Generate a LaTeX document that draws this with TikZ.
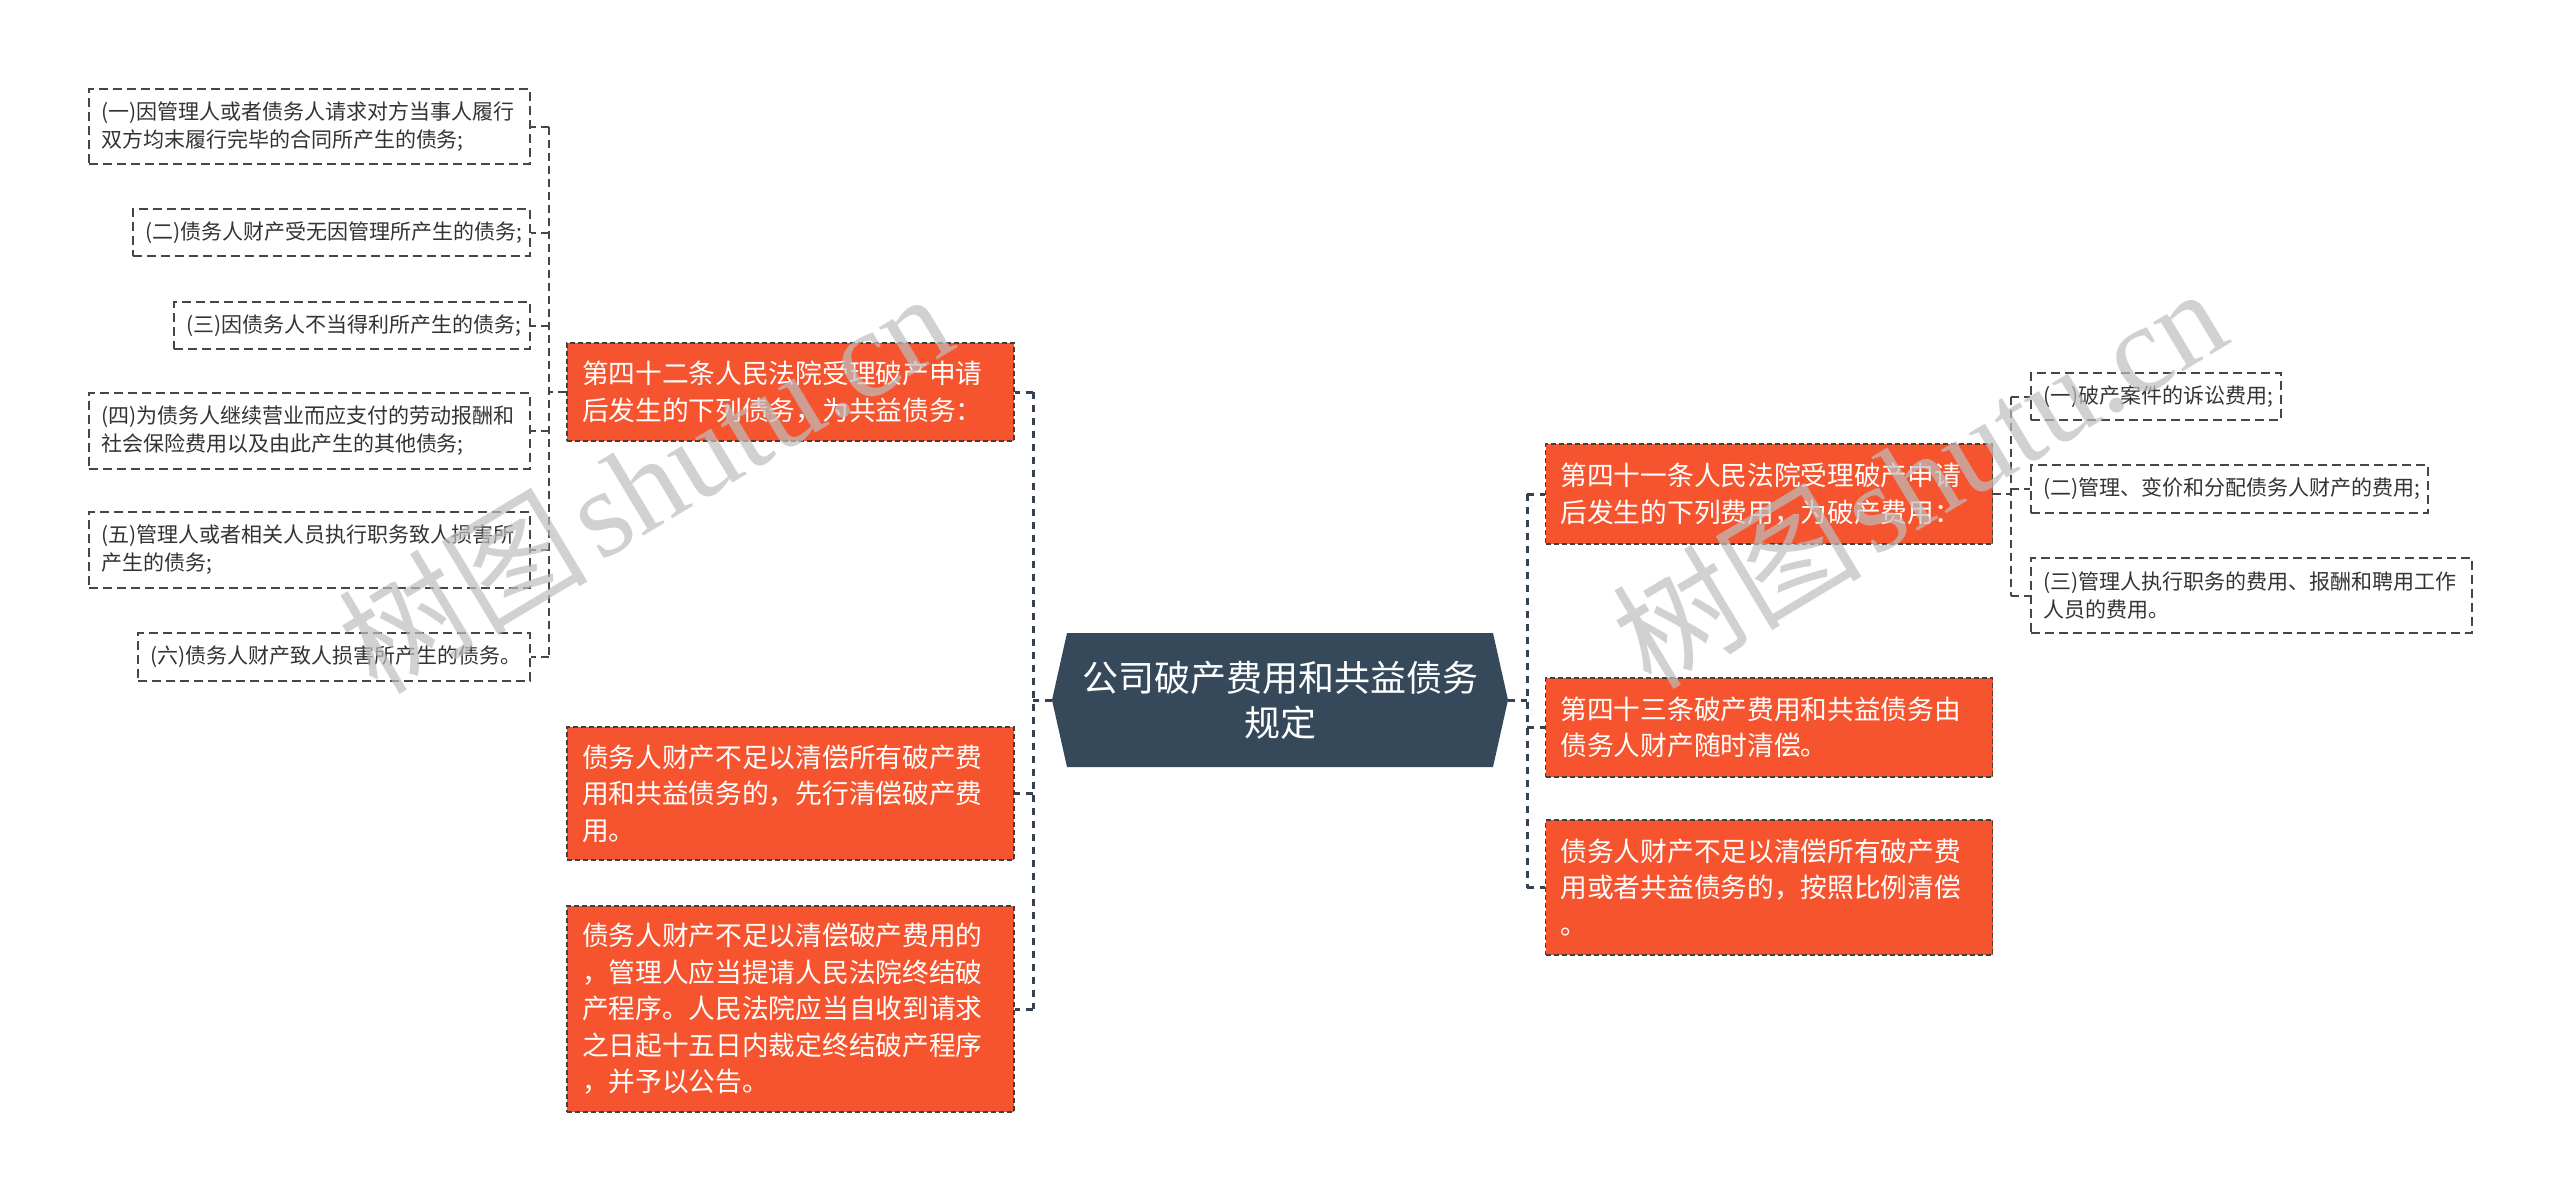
\documentclass[tikz,border=0pt]{standalone}
\usepackage{fontspec}
\setmainfont{Noto Sans CJK SC}
\newfontfamily\wmlatin{Liberation Serif}
\usetikzlibrary{calc}
\definecolor{orangefill}{RGB}{246,84,46}
\definecolor{rootfill}{RGB}{54,73,91}
\definecolor{conn}{RGB}{52,66,82}
\definecolor{leafline}{RGB}{70,70,70}
\definecolor{leaftext}{RGB}{51,51,51}
\definecolor{wmgray}{RGB}{190,190,190}
\tikzset{
  leaf/.style={draw=leafline, line width=2pt, dash pattern=on 9pt off 5pt, fill=white, text=leaftext, font=\fontsize{21}{28}\selectfont, align=left, inner xsep=12pt, inner ysep=0pt},
  mid/.style={draw=black!75, line width=1.6pt, dash pattern=on 5pt off 3pt, fill=orangefill, text=white, font=\fontsize{26.7}{36.5}\selectfont, align=left, inner xsep=15pt, inner ysep=0pt, text width=417pt},
  rootnode/.style={text=white, font=\fontsize{36}{45}\selectfont, align=center, minimum width=456pt, minimum height=134pt, inner sep=0pt},
  mainconn/.style={draw=conn, line width=3pt, dash pattern=on 7pt off 6pt},
  leafconn/.style={draw=leafline, line width=2pt, dash pattern=on 8pt off 5pt},
  watermark/.style={text=wmgray, opacity=0.7, rotate=31, anchor=base west, inner sep=0pt}
}
\newcommand{\wmtext}{\fontsize{125}{125}\selectfont 树图\hspace{10pt}{\wmlatin\fontsize{125}{125}\selectfont shutu.cn}}
\begin{document}
\begin{tikzpicture}[x=1pt,y=-1pt]
\useasboundingbox[fill=white] (0,0) rectangle (2560,1202);
% root
\fill[rootfill] (1052,700) -- (1067,633) -- (1493,633) -- (1508,700) -- (1493,767) -- (1067,767) -- cycle;
\node[rootnode] (root) at (1280,700) {公司破产费用和共益债务\\规定};
% left middle
\node[mid, minimum height=98pt] (A) at (790.5,392) {第四十二条人民法院受理破产申请\\后发生的下列债务，为共益债务：};
\node[mid, minimum height=133pt] (B) at (790.5,793.5) {债务人财产不足以清偿所有破产费\\用和共益债务的，先行清偿破产费\\用。};
\node[mid, minimum height=206pt] (C) at (790.5,1009) {债务人财产不足以清偿破产费用的\\，管理人应当提请人民法院终结破\\产程序。人民法院应当自收到请求\\之日起十五日内裁定终结破产程序\\，并予以公告。};
% right middle
\node[mid, minimum height=100pt] (D) at (1769,494) {第四十一条人民法院受理破产申请\\后发生的下列费用，为破产费用：};
\node[mid, minimum height=99pt] (E) at (1769,727.5) {第四十三条破产费用和共益债务由\\债务人财产随时清偿。};
\node[mid, minimum height=135pt] (F) at (1769,887.5) {债务人财产不足以清偿所有破产费\\用或者共益债务的，按照比例清偿\\。};
% left leaves
\node[leaf, anchor=east, text width=417pt, minimum height=75pt] (L1) at (531,126.5) {(一)因管理人或者债务人请求对方当事人履行\\双方均末履行完毕的合同所产生的债务;};
\node[leaf, anchor=east, text width=373pt, minimum height=47pt] (L2) at (531,232.5) {(二)债务人财产受无因管理所产生的债务;};
\node[leaf, anchor=east, text width=332pt, minimum height=47pt] (L3) at (531,325.5) {(三)因债务人不当得利所产生的债务;};
\node[leaf, anchor=east, text width=417pt, minimum height=76pt] (L4) at (531,430.5) {(四)为债务人继续营业而应支付的劳动报酬和\\社会保险费用以及由此产生的其他债务;};
\node[leaf, anchor=east, text width=417pt, minimum height=76pt] (L5) at (531,549.5) {(五)管理人或者相关人员执行职务致人损害所\\产生的债务;};
\node[leaf, anchor=east, text width=368pt, minimum height=48pt] (L6) at (531,657) {(六)债务人财产致人损害所产生的债务。};
% right leaves
\node[leaf, anchor=west, text width=226pt, minimum height=47pt] (R1) at (2030,396.5) {(一)破产案件的诉讼费用;};
\node[leaf, anchor=west, text width=373pt, minimum height=48pt] (R2) at (2030,489) {(二)管理、变价和分配债务人财产的费用;};
\node[leaf, anchor=west, text width=417pt, minimum height=75pt] (R3) at (2030,595.5) {(三)管理人执行职务的费用、报酬和聘用工作\\人员的费用。};
% bus coordinates
\coordinate (lb) at (1033,700);
\coordinate (rb) at (1527,700);
\coordinate (ab) at (549,392);
\coordinate (db) at (2011,494);
% main connectors
\draw[mainconn] (root.west) -- (lb);
\draw[mainconn] (lb |- A.east) -- (lb |- C.east);
\foreach \n in {A,B,C} \draw[mainconn] (lb |- \n.east) -- (\n.east);
\draw[mainconn] (root.east) -- (rb);
\draw[mainconn] (rb |- D.west) -- (rb |- F.west);
\foreach \n in {D,E,F} \draw[mainconn] (rb |- \n.west) -- (\n.west);
% leaf connectors
\draw[leafconn] (A.west) -- (ab);
\draw[leafconn] (ab |- L1.east) -- (ab |- L6.east);
\foreach \n in {L1,L2,L3,L4,L5,L6} \draw[leafconn] (ab |- \n.east) -- (\n.east);
\draw[leafconn] (D.east) -- (db);
\draw[leafconn] (db |- R1.west) -- (db |- R3.west);
\foreach \n in {R1,R2,R3} \draw[leafconn] (db |- \n.west) -- (\n.west);
% watermarks
\node[watermark] (wm1) at (377,697) {\wmtext};
\node[watermark] (wm2) at (1651,692) {\wmtext};
\end{tikzpicture}
\end{document}
